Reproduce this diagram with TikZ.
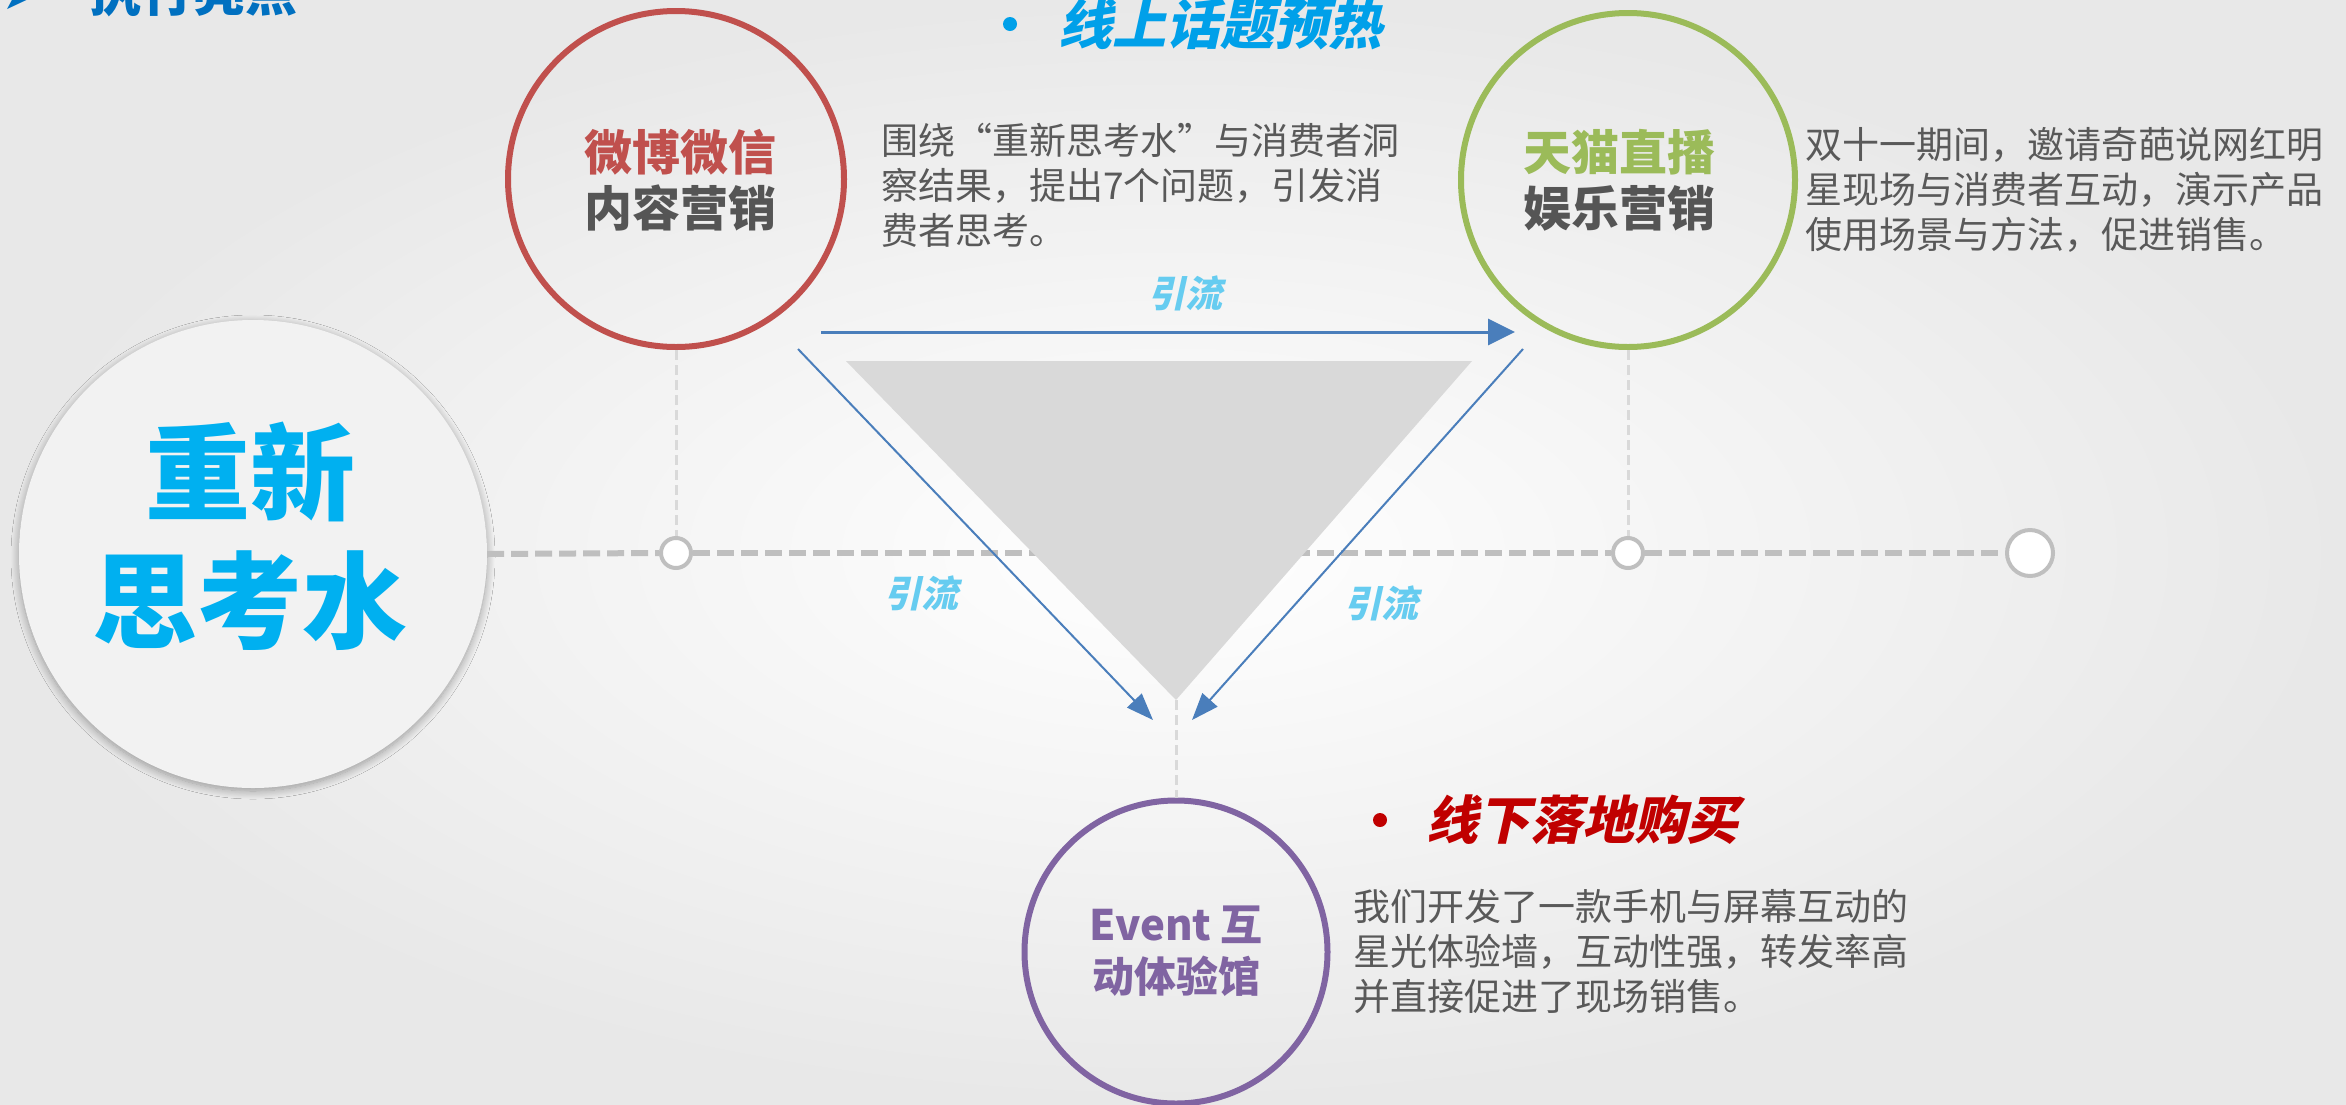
\documentclass[tikz,border=0pt]{standalone}
\usepackage{fontspec}
\setmainfont{Noto Sans CJK SC}
\newfontfamily\cjk{Noto Sans CJK SC}
\newfontfamily\cjkslant[FakeSlant=0.22]{Noto Sans CJK SC}
\newfontfamily\dejavu{DejaVu Sans}
\usetikzlibrary{arrows.meta,shadows.blur}
\definecolor{ringred}{RGB}{192,80,77}
\definecolor{ringgreen}{RGB}{155,187,89}
\definecolor{ringpurple}{RGB}{128,100,162}
\definecolor{darktxt}{RGB}{85,85,85}
\definecolor{paragray}{RGB}{89,89,89}
\definecolor{arrowblue}{RGB}{74,126,187}
\definecolor{flowblue}{RGB}{102,204,240}
\definecolor{trifill}{RGB}{217,217,217}
\definecolor{linegray}{RGB}{191,191,191}
\definecolor{vdashgray}{RGB}{217,217,217}
\definecolor{headblue}{RGB}{0,160,233}
\definecolor{headred}{RGB}{192,0,0}
\definecolor{titleblue}{RGB}{0,112,192}
\definecolor{bigtxt}{RGB}{0,176,240}
\definecolor{bigfill}{RGB}{242,242,242}
\definecolor{bggray}{RGB}{232,232,232}
\begin{document}
\begin{tikzpicture}[x=1pt,y=-1pt,
  ring/.style={circle, draw, line width=6pt, fill=none, inner sep=0pt, align=center},
  para/.style={anchor=west, inner sep=0pt, align=left, text=paragray, font=\cjk\fontsize{37}{45}\selectfont},
  flow/.style={text=flowblue, inner sep=0pt, font=\cjkslant\bfseries\fontsize{37}{40}\selectfont},
  link/.style={draw=arrowblue, line width=2pt, -{Triangle[length=27pt,width=20pt]}},
  toplink/.style={draw=arrowblue, line width=3pt, -{Triangle[length=27pt,width=26pt]}},
  hdash/.style={draw=linegray, line width=6pt, dash pattern=on 17pt off 7pt},
  vdash/.style={draw=vdashgray, line width=3pt, dash pattern=on 10pt off 5pt},
  knot/.style={circle, draw=linegray, line width=4pt, fill=white, inner sep=0pt},
  headbullet/.style={circle, inner sep=0pt, minimum size=14pt}
]
\useasboundingbox (0,0) rectangle (2346,1104);
\shade[inner color=white, outer color=bggray] (0,0) rectangle (2346,1104);

% big circle
\node[circle, fill=bigfill, minimum size=468pt, inner sep=0pt,
  blur shadow={shadow blur steps=12, shadow xshift=0pt, shadow yshift=-3pt, shadow blur radius=8pt, shadow opacity=35}] (bigc) at (253,554) {};
\node[text=bigtxt, font=\cjk\bfseries\fontsize{105}{128}\selectfont, align=center, inner sep=0pt] (bigt) at (250,536) {重新\\思考水};

% knots on time line
\node[knot, minimum size=30pt] (k1) at (676,553) {};
\node[knot, minimum size=30pt] (k2) at (1628,553) {};
\node[knot, minimum size=46pt] (k3) at (2030,553) {};

% horizontal dashed line
\draw[hdash] (bigc.east) -- (k1.west);
\draw[hdash] (k1.east) -- (k2.west);
\draw[hdash] (k2.east) -- (k3.west);

% triangle
\coordinate (tl) at (846,361);
\coordinate (tr) at (1472,361);
\coordinate (tip) at (1176,700);
\fill[trifill] (tl) -- (tr) -- (tip) -- cycle;

% rings
\node[ring, draw=ringred, minimum size=336pt] (red) at (676,179) {};
\node[ring, draw=ringgreen, minimum size=334pt] (green) at (1628,180) {};
\node[ring, draw=ringpurple, minimum size=303pt] (purple) at (1176,952) {};

% vertical dashes
\draw[vdash] (red.south) -- (k1.north);
\draw[vdash] (green.south) -- (k2.north);
\draw[vdash] (tip) -- (purple.north);

% ring labels
\node[align=center, inner sep=0pt, font=\cjk\bfseries\fontsize{48}{56}\selectfont] (redt) at (680,180)
  {\textcolor{ringred}{微博微信}\\\textcolor{darktxt}{内容营销}};
\node[align=center, inner sep=0pt, font=\cjk\bfseries\fontsize{48}{56}\selectfont] (greent) at (1619,180)
  {\textcolor{ringgreen}{天猫直播}\\\textcolor{darktxt}{娱乐营销}};
\node[align=center, inner sep=0pt, text=ringpurple, font=\cjk\bfseries\fontsize{42}{52}\selectfont] (purplet) at (1176,951)
  {Event 互\\动体验馆};

% arrows
\coordinate (h1) at (821,332);
\coordinate (h2) at (1515,332);
\coordinate (l1) at (798,349);
\coordinate (l2) at (1153,720);
\coordinate (r1) at (1523,349);
\coordinate (r2) at (1192,720);
\draw[toplink] (h1) -- (h2);
\draw[link] (l1) -- (l2);
\draw[link] (r1) -- (r2);
\node[flow] (f1) at (1185,293) {引流};
\node[flow] (f2) at (921,593) {引流};
\node[flow] (f3) at (1381,603) {引流};

% paragraphs
\node[para] (p1) at (881,185) {围绕“重新思考水”与消费者洞\\察结果，提出7个问题，引发消\\费者思考。};
\node[para] (p2) at (1805,190) {双十一期间，邀请奇葩说网红明\\星现场与消费者互动，演示产品\\使用场景与方法，促进销售。};
\node[para] (p3) at (1353,951) {我们开发了一款手机与屏幕互动的\\星光体验墙，互动性强，转发率高\\并直接促进了现场销售。};

% headings
\node[headbullet, fill=headblue] (b1) at (1010,24) {};
\node[anchor=west, inner sep=0pt, text=headblue, font=\cjkslant\bfseries\fontsize{54}{60}\selectfont] (h1t) at (1058,24) {线上话题预热};
\node[headbullet, fill=headred] (b2) at (1380,820) {};
\node[anchor=west, inner sep=0pt, text=headred, font=\cjkslant\bfseries\fontsize{52}{60}\selectfont] (h2t) at (1426,820) {线下落地购买};

% title (cut off at top)
\node[anchor=base west, inner sep=0pt, text=titleblue, font=\dejavu\fontsize{44}{50}\selectfont] (arr) at (2,9) {➤};
\node[anchor=base west, inner sep=0pt, text=titleblue, font=\cjk\bfseries\fontsize{52}{60}\selectfont] (title) at (89,11) {执行亮点};
\end{tikzpicture}
\end{document}
